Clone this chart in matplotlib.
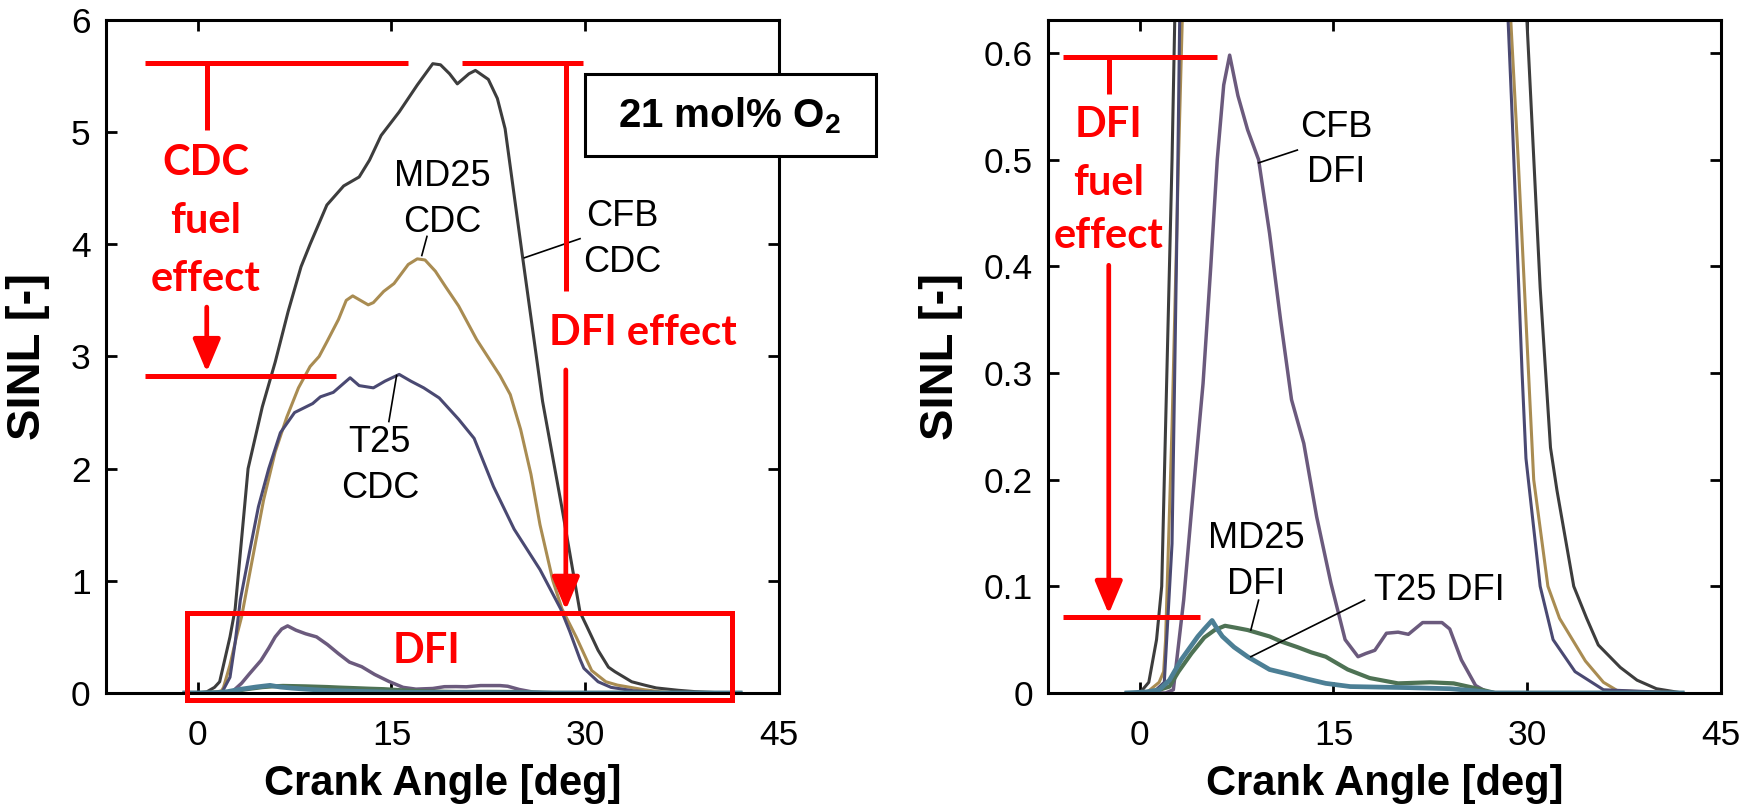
import matplotlib
matplotlib.use("Agg")
import matplotlib.pyplot as plt
from matplotlib.patches import Rectangle, ConnectionPatch

plt.rcParams["font.family"] = ["Liberation Sans", "DejaVu Sans"]
plt.rcParams["mathtext.fontset"] = "custom"
plt.rcParams["mathtext.rm"] = "Liberation Sans"
plt.rcParams["mathtext.bf"] = "Liberation Sans:bold"

# crank angle [deg] / SINL [-]
ca_cfb_cdc = [-1, 0, 0.7, 1.3, 1.7, 2.5, 2.9, 3.9, 5.0, 6.0, 7.0, 8.0, 8.7, 10.0, 11.3, 12.5,
              13.3, 14.2, 15.6, 17.0, 18.2, 18.8, 19.5, 20.1, 21.0, 21.5, 22.5, 23.2, 23.8,
              25.1, 26.7, 28.2, 29.6, 30.1, 31.0, 31.8, 32.3, 33.6, 34.6, 35.5, 37.2, 38.5, 40, 42]
sinl_cfb_cdc = [0, 0, 0.01, 0.05, 0.1, 0.5, 0.75, 2.0, 2.55, 2.95, 3.4, 3.8, 4.0, 4.35, 4.52, 4.6,
                4.75, 4.97, 5.18, 5.42, 5.61, 5.6, 5.52, 5.43, 5.52, 5.55, 5.47, 5.3, 5.03,
                3.93, 2.6, 1.65, 0.72, 0.6, 0.38, 0.23, 0.19, 0.1, 0.07, 0.045, 0.024, 0.012, 0.004, 0]

ca_md25_cdc = [-1, 0.5, 1.5, 1.85, 2.0, 2.5, 3.0, 3.4, 4.0, 5.1, 6.0, 6.9, 7.8, 8.7, 9.4, 10.0,
               10.9, 11.5, 12.0, 12.6, 13.2, 13.6, 14.4, 15.2, 16.3, 17.0, 17.6, 18.4, 19.2,
               20.2, 21.6, 23.4, 24.2, 25.0, 25.8, 26.5, 27.5, 28.2, 29.3, 30.5, 31.6, 32.5,
               33.5, 34.5, 35.9, 37.0, 42]
sinl_md25_cdc = [0, 0, 0.01, 0.02, 0.05, 0.25, 0.5, 0.68, 1.05, 1.72, 2.15, 2.46, 2.72, 2.91, 3.0,
                 3.13, 3.33, 3.5, 3.54, 3.5, 3.46, 3.48, 3.58, 3.65, 3.82, 3.87, 3.86, 3.76, 3.62,
                 3.45, 3.15, 2.83, 2.66, 2.35, 1.95, 1.5, 1.0, 0.75, 0.5, 0.2, 0.1, 0.07,
                 0.05, 0.03, 0.01, 0.002, 0]

ca_t25_cdc = [-1, 1.0, 1.9, 2.5, 2.9, 3.3, 4.0, 4.7, 5.5, 6.4, 7.5, 8.9, 9.5, 10.5, 11.2, 11.8,
              12.5, 13.6, 14.5, 15.6, 16.5, 17.5, 18.7, 20.2, 21.4, 22.9, 24.5, 26.5, 28.1,
              28.8, 29.6, 29.9, 31.0, 32.0, 33.7, 35.9, 42]
sinl_t25_cdc = [0, 0, 0.01, 0.14, 0.45, 0.83, 1.25, 1.66, 2.0, 2.32, 2.5, 2.58, 2.64, 2.68, 2.75,
                2.81, 2.74, 2.72, 2.78, 2.84, 2.78, 2.72, 2.63, 2.44, 2.27, 1.84, 1.46, 1.1, 0.75,
                0.55, 0.3, 0.22, 0.1, 0.05, 0.02, 0.003, 0]

ca_cfb_dfi = [-1, 2.0, 2.6, 3.4, 4.0, 4.9, 5.5, 6.0, 6.5, 6.96, 7.6, 8.35, 9.2, 10.05, 10.9,
              11.75, 12.7, 13.7, 14.8, 15.9, 16.9, 17.5, 18.2, 19.1, 20.0, 20.8, 21.9, 23.4,
              24.0, 24.9, 26.0, 27.0, 42]
sinl_cfb_dfi = [0, 0, 0.003, 0.087, 0.17, 0.29, 0.4, 0.5, 0.57, 0.598, 0.56, 0.528, 0.5, 0.431,
                0.35, 0.275, 0.234, 0.165, 0.103, 0.05, 0.034, 0.037, 0.04, 0.056, 0.057, 0.055,
                0.066, 0.066, 0.06, 0.031, 0.007, 0, 0]

ca_md25_dfi = [-1, 0.2, 1.0, 2.3, 3.0, 4.0, 5.0, 5.8, 6.6, 7.5, 8.35, 10.05, 11.0, 12.2, 13.3,
               14.4, 16.1, 17.8, 20.0, 22.5, 24.3, 25.8, 27.5, 42]
sinl_md25_dfi = [0, 0, 0.001, 0.006, 0.02, 0.037, 0.052, 0.059, 0.063, 0.061, 0.059, 0.053,
                 0.048, 0.043, 0.038, 0.034, 0.022, 0.014, 0.009, 0.01, 0.009, 0.005, 0, 0]

ca_t25_dfi = [-1, 0.5, 1.5, 2.3, 3.2, 4.5, 5.0, 5.6, 6.0, 6.4, 7.3, 8.35, 10.05, 11.75, 13.0,
              14.4, 16.3, 20.8, 24.0, 26.0, 27.5, 42]
sinl_t25_dfi = [0, 0.001, 0.003, 0.012, 0.031, 0.053, 0.06, 0.068, 0.06, 0.053, 0.043, 0.034,
                0.022, 0.017, 0.013, 0.009, 0.006, 0.005, 0.004, 0.002, 0, 0]

xticks = [0, 15, 30, 45]
yticks_left = [0, 1, 2, 3, 4, 5, 6]
yticks_right = [0, 0.1, 0.2, 0.3, 0.4, 0.5, 0.6]
ylabels_right = ["0", "0.1", "0.2", "0.3", "0.4", "0.5", "0.6"]

RED = "#ff0000"
REDFONT = ["Lato", "DejaVu Sans"]

curves = [
    (ca_cfb_cdc, sinl_cfb_cdc, "#3d3d3d", 2.2),
    (ca_md25_cdc, sinl_md25_cdc, "#a98c52", 2.2),
    (ca_t25_cdc, sinl_t25_cdc, "#4a4972", 2.2),
    (ca_cfb_dfi, sinl_cfb_dfi, "#6b5a7d", 2.5),
    (ca_md25_dfi, sinl_md25_dfi, "#4e7254", 3.0),
    (ca_t25_dfi, sinl_t25_dfi, "#4c7f95", 3.4),
]

fig = plt.figure(figsize=(17.52, 8.07), dpi=100)
ax1 = fig.add_axes([0.0605, 0.1413, 0.3841, 0.8340])
ax2 = fig.add_axes([0.5982, 0.1413, 0.3841, 0.8340])

for ax in (ax1, ax2):
    for x, y, c, lw in curves:
        ax.plot(x, y, color=c, lw=lw, solid_joinstyle="round")
    ax.set_xlim(-7.1, 45)
    ax.set_xticks(xticks)
    ax.tick_params(direction="in", length=8, width=2, labelsize=25.5,
                   top=True, right=True, pad=11)
    ax.tick_params(axis="x", pad=19)
    for s in ax.spines.values():
        s.set_linewidth(2.2)
    ax.set_xlabel("Crank Angle [deg]", fontsize=30, fontweight="bold")
    ax.xaxis.set_label_coords(0.5, -0.106)
    ax.set_ylabel("SINL [-]", fontsize=34, fontweight="bold")

ax1.set_ylim(0, 6)
ax1.set_yticks(yticks_left)
ax1.yaxis.set_label_coords(-0.083, 0.5)
ax2.set_ylim(0, 0.631)
ax2.set_yticks(yticks_right)
ax2.set_yticklabels(ylabels_right)
ax2.yaxis.set_label_coords(-0.126, 0.5)


def red_line(ax, xs, ys):
    ax.plot(xs, ys, color=RED, lw=3.6, solid_capstyle="butt", zorder=6, clip_on=False)


def red_arrow(ax, x, y0, y1):
    ax.annotate("", xy=(x, y1), xytext=(x, y0), annotation_clip=False,
                arrowprops=dict(arrowstyle="-|>,head_length=1.0,head_width=0.42",
                                mutation_scale=20, color=RED, lw=3.4,
                                shrinkA=0, shrinkB=0), zorder=6)


def red_text(ax, x, y, s):
    ax.text(x, y, s, color=RED, fontsize=30, fontweight="bold", family=REDFONT,
            ha="center", va="baseline", zorder=7)


# left panel annotations
red_line(ax1, [-4.1, 16.3], [5.62, 5.62])
red_line(ax1, [20.5, 29.8], [5.62, 5.62])
red_line(ax1, [0.7, 0.7], [5.62, 5.02])
red_text(ax1, 0.6, 4.62, "CDC")
red_text(ax1, 0.6, 4.10, "fuel")
red_text(ax1, 0.6, 3.58, "effect")
red_arrow(ax1, 0.7, 3.44, 2.86)
red_line(ax1, [-4.1, 10.7], [2.83, 2.83])
red_line(ax1, [28.5, 28.5], [5.62, 3.58])
red_text(ax1, 34.5, 3.10, "DFI effect")
red_arrow(ax1, 28.5, 2.88, 0.74)
ax1.add_patch(Rectangle((-0.85, -0.062), 42.25, 0.772, fill=False, ec=RED, lw=3.6,
                        clip_on=False, zorder=6))
red_text(ax1, 17.7, 0.27, "DFI")

ax1.add_patch(Rectangle((30.0, 4.79), 22.5, 0.73, fc="white", ec="black", lw=2.2,
                        clip_on=False, zorder=8))
ax1.text(41.2, 5.15, r"21 mol% O$_\mathbf{2}$", fontsize=29, fontweight="bold",
         ha="center", va="center", zorder=9)

ax1.text(18.9, 4.40, "MD25\nCDC", fontsize=26, ha="center", va="center", linespacing=1.4)
ax1.plot([17.35, 17.75], [3.9, 4.07], color="black", lw=1.2)
ax1.text(32.9, 4.04, "CFB\nCDC", fontsize=26, ha="center", va="center", linespacing=1.4)
ax1.plot([25.3, 29.6], [3.88, 4.05], color="black", lw=1.2)
ax1.text(14.1, 2.03, "T25\nCDC", fontsize=26, ha="center", va="center", linespacing=1.4)
ax1.plot([15.4, 14.8], [2.83, 2.42], color="black", lw=1.2)

# right panel annotations
red_line(ax2, [-5.95, 6.0], [0.5966, 0.5966])
red_line(ax2, [-2.4, -2.4], [0.5966, 0.562])
red_text(ax2, -2.4, 0.521, "DFI")
red_text(ax2, -2.4, 0.467, "fuel")
red_text(ax2, -2.4, 0.417, "effect")
red_arrow(ax2, -2.4, 0.401, 0.074)
red_line(ax2, [-5.95, 4.65], [0.071, 0.071])

ax2.text(15.2, 0.509, "CFB\nDFI", fontsize=26, ha="center", va="center", linespacing=1.4)
ax2.plot([9.2, 12.2], [0.497, 0.509], color="black", lw=1.2)
ax2.text(9.0, 0.123, "MD25\nDFI", fontsize=26, ha="center", va="center", linespacing=1.4)
ax2.plot([9.2, 8.6], [0.087, 0.059], color="black", lw=1.2)
ax2.text(23.2, 0.0965, "T25 DFI", fontsize=26, ha="center", va="center")
ax2.plot([17.4, 8.6], [0.087, 0.034], color="black", lw=1.2)

# arrow from the DFI box to the zoomed panel
con = ConnectionPatch(xyA=(41.4, 0.32), coordsA="data", axesA=ax1,
                      xyB=(-13.8, 0.1406), coordsB="data", axesB=ax2,
                      arrowstyle="-|>,head_length=1.2,head_width=0.5", mutation_scale=20,
                      color=RED, lw=3.6, shrinkA=0, shrinkB=0)
fig.add_artist(con)

fig.savefig("out.png", dpi=100)
